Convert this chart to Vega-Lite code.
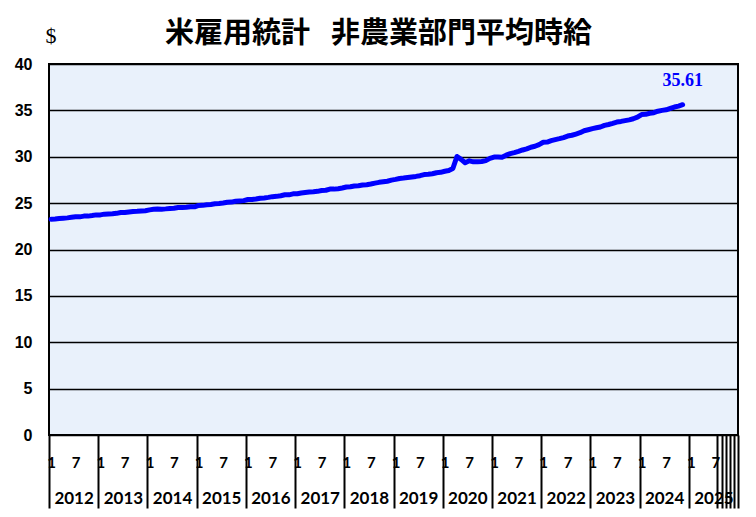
{
  "$schema": "https://vega.github.io/schema/vega-lite/v6.json",
  "width": 689,
  "height": 371,
  "autosize": "none",
  "padding": {"left": 49, "top": 64, "right": 18, "bottom": 82},
  "background": "white",
  "title": {
    "text": "米雇用統計\u2002 非農業部門平均時給",
    "font": "Noto Sans CJK JP",
    "fontSize": 29,
    "fontWeight": "bold",
    "color": "black",
    "anchor": "middle",
    "frame": "group",
    "baseline": "alphabetic",
    "offset": 0,
    "dx": -15,
    "dy": 48
  },
  "data": {
    "values": [
      {"month": "2012-01", "wage": 23.26}, {"month": "2012-02", "wage": 23.29}, {"month": "2012-03", "wage": 23.34}, {"month": "2012-04", "wage": 23.38},
      {"month": "2012-05", "wage": 23.41}, {"month": "2012-06", "wage": 23.47}, {"month": "2012-07", "wage": 23.52}, {"month": "2012-08", "wage": 23.52},
      {"month": "2012-09", "wage": 23.60}, {"month": "2012-10", "wage": 23.60}, {"month": "2012-11", "wage": 23.66}, {"month": "2012-12", "wage": 23.73},
      {"month": "2013-01", "wage": 23.73}, {"month": "2013-02", "wage": 23.81}, {"month": "2013-03", "wage": 23.83}, {"month": "2013-04", "wage": 23.85},
      {"month": "2013-05", "wage": 23.90}, {"month": "2013-06", "wage": 23.99}, {"month": "2013-07", "wage": 23.99}, {"month": "2013-08", "wage": 24.05},
      {"month": "2013-09", "wage": 24.10}, {"month": "2013-10", "wage": 24.12}, {"month": "2013-11", "wage": 24.16}, {"month": "2013-12", "wage": 24.18},
      {"month": "2014-01", "wage": 24.27}, {"month": "2014-02", "wage": 24.33}, {"month": "2014-03", "wage": 24.37}, {"month": "2014-04", "wage": 24.34},
      {"month": "2014-05", "wage": 24.38}, {"month": "2014-06", "wage": 24.43}, {"month": "2014-07", "wage": 24.45}, {"month": "2014-08", "wage": 24.53},
      {"month": "2014-09", "wage": 24.52}, {"month": "2014-10", "wage": 24.56}, {"month": "2014-11", "wage": 24.62}, {"month": "2014-12", "wage": 24.60},
      {"month": "2015-01", "wage": 24.75}, {"month": "2015-02", "wage": 24.76}, {"month": "2015-03", "wage": 24.82}, {"month": "2015-04", "wage": 24.86},
      {"month": "2015-05", "wage": 24.94}, {"month": "2015-06", "wage": 24.96}, {"month": "2015-07", "wage": 25.01}, {"month": "2015-08", "wage": 25.09},
      {"month": "2015-09", "wage": 25.11}, {"month": "2015-10", "wage": 25.20}, {"month": "2015-11", "wage": 25.24}, {"month": "2015-12", "wage": 25.27},
      {"month": "2016-01", "wage": 25.39}, {"month": "2016-02", "wage": 25.38}, {"month": "2016-03", "wage": 25.44}, {"month": "2016-04", "wage": 25.53},
      {"month": "2016-05", "wage": 25.56}, {"month": "2016-06", "wage": 25.62}, {"month": "2016-07", "wage": 25.70}, {"month": "2016-08", "wage": 25.73},
      {"month": "2016-09", "wage": 25.80}, {"month": "2016-10", "wage": 25.90}, {"month": "2016-11", "wage": 25.89}, {"month": "2016-12", "wage": 26.00},
      {"month": "2017-01", "wage": 26.01}, {"month": "2017-02", "wage": 26.09}, {"month": "2017-03", "wage": 26.14}, {"month": "2017-04", "wage": 26.19},
      {"month": "2017-05", "wage": 26.22}, {"month": "2017-06", "wage": 26.27}, {"month": "2017-07", "wage": 26.36}, {"month": "2017-08", "wage": 26.39},
      {"month": "2017-09", "wage": 26.52}, {"month": "2017-10", "wage": 26.51}, {"month": "2017-11", "wage": 26.56}, {"month": "2017-12", "wage": 26.63},
      {"month": "2018-01", "wage": 26.74}, {"month": "2018-02", "wage": 26.76}, {"month": "2018-03", "wage": 26.84}, {"month": "2018-04", "wage": 26.87},
      {"month": "2018-05", "wage": 26.95}, {"month": "2018-06", "wage": 26.99}, {"month": "2018-07", "wage": 27.06}, {"month": "2018-08", "wage": 27.16},
      {"month": "2018-09", "wage": 27.24}, {"month": "2018-10", "wage": 27.30}, {"month": "2018-11", "wage": 27.36}, {"month": "2018-12", "wage": 27.48},
      {"month": "2019-01", "wage": 27.56}, {"month": "2019-02", "wage": 27.66}, {"month": "2019-03", "wage": 27.70}, {"month": "2019-04", "wage": 27.76},
      {"month": "2019-05", "wage": 27.82}, {"month": "2019-06", "wage": 27.88}, {"month": "2019-07", "wage": 27.96}, {"month": "2019-08", "wage": 28.08},
      {"month": "2019-09", "wage": 28.11}, {"month": "2019-10", "wage": 28.17}, {"month": "2019-11", "wage": 28.28}, {"month": "2019-12", "wage": 28.32},
      {"month": "2020-01", "wage": 28.44}, {"month": "2020-02", "wage": 28.52}, {"month": "2020-03", "wage": 28.73}, {"month": "2020-04", "wage": 30.03},
      {"month": "2020-05", "wage": 29.72}, {"month": "2020-06", "wage": 29.35}, {"month": "2020-07", "wage": 29.56}, {"month": "2020-08", "wage": 29.45},
      {"month": "2020-09", "wage": 29.45}, {"month": "2020-10", "wage": 29.49}, {"month": "2020-11", "wage": 29.58}, {"month": "2020-12", "wage": 29.82},
      {"month": "2021-01", "wage": 29.96}, {"month": "2021-02", "wage": 29.98}, {"month": "2021-03", "wage": 29.95}, {"month": "2021-04", "wage": 30.17},
      {"month": "2021-05", "wage": 30.33}, {"month": "2021-06", "wage": 30.44}, {"month": "2021-07", "wage": 30.57}, {"month": "2021-08", "wage": 30.73},
      {"month": "2021-09", "wage": 30.85}, {"month": "2021-10", "wage": 31.03}, {"month": "2021-11", "wage": 31.13}, {"month": "2021-12", "wage": 31.31},
      {"month": "2022-01", "wage": 31.56}, {"month": "2022-02", "wage": 31.58}, {"month": "2022-03", "wage": 31.73}, {"month": "2022-04", "wage": 31.85},
      {"month": "2022-05", "wage": 31.95}, {"month": "2022-06", "wage": 32.07}, {"month": "2022-07", "wage": 32.23}, {"month": "2022-08", "wage": 32.32},
      {"month": "2022-09", "wage": 32.45}, {"month": "2022-10", "wage": 32.59}, {"month": "2022-11", "wage": 32.80}, {"month": "2022-12", "wage": 32.91},
      {"month": "2023-01", "wage": 33.03}, {"month": "2023-02", "wage": 33.12}, {"month": "2023-03", "wage": 33.21}, {"month": "2023-04", "wage": 33.38},
      {"month": "2023-05", "wage": 33.48}, {"month": "2023-06", "wage": 33.60}, {"month": "2023-07", "wage": 33.74}, {"month": "2023-08", "wage": 33.81},
      {"month": "2023-09", "wage": 33.90}, {"month": "2023-10", "wage": 33.98}, {"month": "2023-11", "wage": 34.10}, {"month": "2023-12", "wage": 34.27},
      {"month": "2024-01", "wage": 34.55}, {"month": "2024-02", "wage": 34.57}, {"month": "2024-03", "wage": 34.69}, {"month": "2024-04", "wage": 34.75},
      {"month": "2024-05", "wage": 34.91}, {"month": "2024-06", "wage": 35.00}, {"month": "2024-07", "wage": 35.06}, {"month": "2024-08", "wage": 35.21},
      {"month": "2024-09", "wage": 35.36}, {"month": "2024-10", "wage": 35.46}, {"month": "2024-11", "wage": 35.61}
    ]
  },
  "encoding": {
    "y": {
      "field": "wage",
      "type": "quantitative",
      "scale": {"domain": [0, 40], "nice": false, "zero": true},
      "axis": {
        "values": [0, 5, 10, 15, 20, 25, 30, 35, 40],
        "grid": true,
        "gridColor": "black",
        "gridWidth": 1.5,
        "gridOpacity": 1,
        "domain": false,
        "ticks": false,
        "labelFont": "Liberation Sans",
        "labelFontSize": 16,
        "labelFontWeight": "bold",
        "labelColor": "black",
        "labelPadding": 17,
        "title": "$",
        "titleFont": "Liberation Serif",
        "titleFontSize": 22,
        "titleFontWeight": "normal",
        "titleColor": "black",
        "titleAngle": 0,
        "titleAlign": "left",
        "titleBaseline": "middle",
        "titleX": -4,
        "titleY": -29
      }
    }
  },
  "layer": [
    {
      "mark": {"type": "line", "color": "#0000ff", "strokeWidth": 5, "strokeCap": "round", "strokeJoin": "round"},
      "encoding": {
        "x": {
          "field": "month",
          "timeUnit": "utcyearmonth",
          "type": "temporal",
          "bandPosition": 0.5,
          "scale": {
            "type": "utc",
            "nice": false,
            "domain": [
              {"year": 2012, "month": 1, "date": 1, "utc": true},
              {"year": 2026, "month": 1, "date": 1, "utc": true}
            ]
          },
          "axis": {
            "orient": "bottom",
            "title": null,
            "grid": false,
            "domain": false,
            "ticks": false,
            "labelOverlap": false,
            "labelFlush": false,
            "labelBound": false,
            "labelFont": "Lato",
            "labelFontSize": 15,
            "labelFontWeight": "bold",
            "labelColor": "black",
            "labelPadding": 20,
            "labelExpr": "utcFormat(datum.value, '%m') == '01' ? '1' : '7'",
            "values": [
              {"year": 2012, "month": 1, "date": 16, "utc": true}, {"year": 2012, "month": 7, "date": 16, "utc": true},
              {"year": 2013, "month": 1, "date": 16, "utc": true}, {"year": 2013, "month": 7, "date": 16, "utc": true},
              {"year": 2014, "month": 1, "date": 16, "utc": true}, {"year": 2014, "month": 7, "date": 16, "utc": true},
              {"year": 2015, "month": 1, "date": 16, "utc": true}, {"year": 2015, "month": 7, "date": 16, "utc": true},
              {"year": 2016, "month": 1, "date": 16, "utc": true}, {"year": 2016, "month": 7, "date": 16, "utc": true},
              {"year": 2017, "month": 1, "date": 16, "utc": true}, {"year": 2017, "month": 7, "date": 16, "utc": true},
              {"year": 2018, "month": 1, "date": 16, "utc": true}, {"year": 2018, "month": 7, "date": 16, "utc": true},
              {"year": 2019, "month": 1, "date": 16, "utc": true}, {"year": 2019, "month": 7, "date": 16, "utc": true},
              {"year": 2020, "month": 1, "date": 16, "utc": true}, {"year": 2020, "month": 7, "date": 16, "utc": true},
              {"year": 2021, "month": 1, "date": 16, "utc": true}, {"year": 2021, "month": 7, "date": 16, "utc": true},
              {"year": 2022, "month": 1, "date": 16, "utc": true}, {"year": 2022, "month": 7, "date": 16, "utc": true},
              {"year": 2023, "month": 1, "date": 16, "utc": true}, {"year": 2023, "month": 7, "date": 16, "utc": true},
              {"year": 2024, "month": 1, "date": 16, "utc": true}, {"year": 2024, "month": 7, "date": 16, "utc": true},
              {"year": 2025, "month": 1, "date": 16, "utc": true}, {"year": 2025, "month": 7, "date": 16, "utc": true}
            ]
          }
        }
      }
    },
    {
      "transform": [
        {"filter": {"field": "month", "timeUnit": "utcyearmonth", "equal": {"year": 2024, "month": 11, "utc": true}}}
      ],
      "mark": {
        "type": "text",
        "color": "#0000ff",
        "font": "Liberation Serif",
        "fontSize": 18,
        "fontWeight": "bold",
        "align": "center",
        "baseline": "middle",
        "dy": -24
      },
      "encoding": {
        "text": {"field": "wage", "type": "quantitative", "format": ".2f"},
        "x": {
          "field": "month",
          "timeUnit": "utcyearmonth",
          "type": "temporal",
          "bandPosition": 0.5,
          "axis": {
            "orient": "bottom",
            "title": null,
            "grid": false,
            "domain": false,
            "ticks": true,
            "tickSize": 73,
            "tickWidth": 2,
            "tickColor": "black",
            "labelOverlap": false,
            "labelFlush": false,
            "labelBound": false,
            "labelFont": "Lato",
            "labelFontSize": 17,
            "labelFontWeight": "bold",
            "labelColor": "black",
            "labelOffset": 24.6,
            "labelPadding": -18,
            "labelExpr": "utcFormat(datum.value, '%m') == '01' && utcFormat(datum.value, '%Y') != '2026' ? utcFormat(datum.value, '%Y') : ''",
            "values": [
              {"year": 2012, "month": 1, "date": 1, "utc": true}, {"year": 2013, "month": 1, "date": 1, "utc": true},
              {"year": 2014, "month": 1, "date": 1, "utc": true}, {"year": 2015, "month": 1, "date": 1, "utc": true},
              {"year": 2016, "month": 1, "date": 1, "utc": true}, {"year": 2017, "month": 1, "date": 1, "utc": true},
              {"year": 2018, "month": 1, "date": 1, "utc": true}, {"year": 2019, "month": 1, "date": 1, "utc": true},
              {"year": 2020, "month": 1, "date": 1, "utc": true}, {"year": 2021, "month": 1, "date": 1, "utc": true},
              {"year": 2022, "month": 1, "date": 1, "utc": true}, {"year": 2023, "month": 1, "date": 1, "utc": true},
              {"year": 2024, "month": 1, "date": 1, "utc": true}, {"year": 2025, "month": 1, "date": 1, "utc": true},
              {"year": 2025, "month": 8, "date": 1, "utc": true}, {"year": 2025, "month": 9, "date": 1, "utc": true},
              {"year": 2025, "month": 10, "date": 1, "utc": true}, {"year": 2025, "month": 11, "date": 1, "utc": true},
              {"year": 2025, "month": 12, "date": 1, "utc": true}, {"year": 2026, "month": 1, "date": 1, "utc": true}
            ]
          }
        }
      }
    }
  ],
  "resolve": {"axis": {"x": "independent"}},
  "config": {
    "view": {"fill": "#e9f1fb", "stroke": "black", "strokeWidth": 2}
  }
}
